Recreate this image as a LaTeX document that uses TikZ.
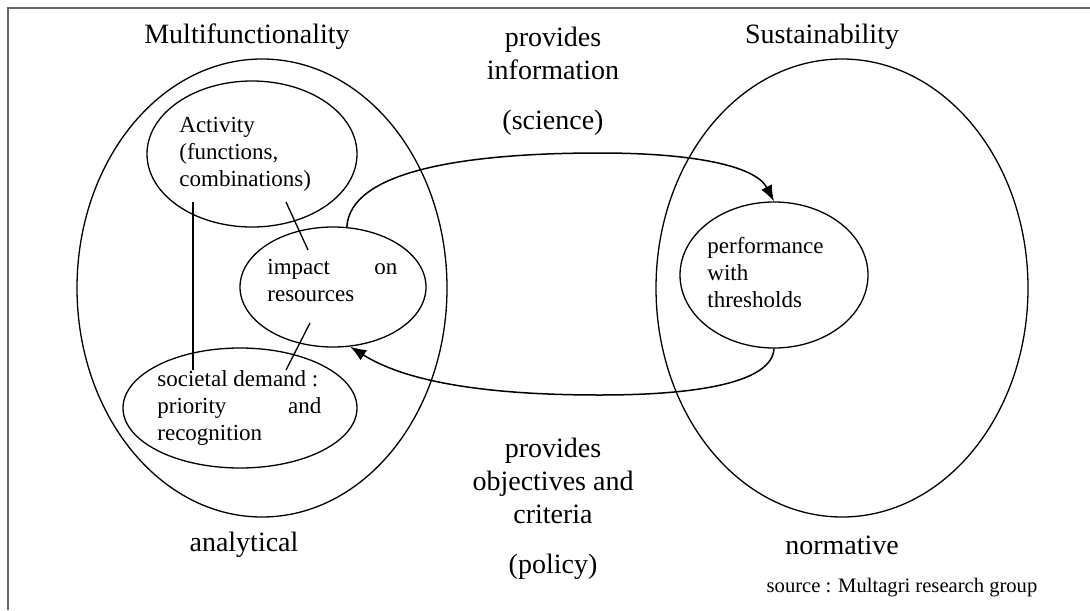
\documentclass[tikz,border=0pt]{standalone}
\usepackage{fontspec}
\setmainfont{Liberation Serif}
\usetikzlibrary{shapes.geometric,arrows.meta}
\begin{document}
\begin{tikzpicture}[x=0.5pt,y=-0.5pt,
  oval/.style={draw, ellipse, inner sep=0pt, line width=0.65pt},
  title/.style={font=\fontsize{14}{16.5}\selectfont, align=center, inner sep=0pt},
  inner/.style={font=\fontsize{11.5}{13.5}\selectfont, align=left, inner sep=0pt, anchor=west},
  link/.style={line width=0.65pt},
  flow/.style={line width=0.75pt, -{Latex[length=8pt,width=6pt]}}]
\useasboundingbox (0,0) rectangle (1090,610);
\draw[line width=1.3pt, black!60] (8,610) -- (8,8) -- (1090,8);
% big ellipses
\node[oval, minimum width=185pt, minimum height=229pt] (multi) at (262,288) {};
\node[oval, minimum width=186pt, minimum height=229pt] (sust) at (842,288) {};
% inner ellipses
\node[oval, minimum width=105pt, minimum height=73pt] (act) at (252,154) {};
\node[oval, minimum width=93pt, minimum height=60pt] (imp) at (333,287) {};
\node[oval, minimum width=117pt, minimum height=60pt] (soc) at (240,408) {};
\node[oval, minimum width=94pt, minimum height=73pt] (perf) at (774,275) {};
% texts
\node[title] (tmulti) at (247,37) {Multifunctionality};
\node[title] (tsust) at (822,37) {Sustainability};
\node[title] (tinfo) at (553,53) {provides\\information};
\node[title] (tsci) at (553,123) {(science)};
\node[title] (tobj) at (553,481) {provides\\objectives and\\criteria};
\node[title] (tpol) at (553,567) {(policy)};
\node[title] (tana) at (244,545) {analytical};
\node[title] (tnorm) at (842,545) {normative};
\node[font=\fontsize{10.3}{12}\selectfont, inner sep=0pt] (src) at (902,588) {source : Multagri research group};
\node[inner] (tact) at (179,154) {Activity\\(functions,\\combinations)};
\node[inner] (timp) at (267,280) {\hbox to 65pt{impact\hfill on}\\resources};
\node[inner] (tsoc) at (157,408) {societal demand :\\\hbox to 82pt{priority\hfill and}\\recognition};
\node[inner] (tperf) at (707,273) {performance\\with\\thresholds};
% links
\coordinate (a1) at (193,202);
\coordinate (s1) at (193,370);
\coordinate (a2) at (286,202);
\coordinate (i1) at (308,250);
\coordinate (i2) at (310,323);
\coordinate (s2) at (286,370);
\draw[link] (a1) -- (s1);
\draw[link] (a2) -- (i1);
\draw[link] (i2) -- (s2);
% flows
\draw[flow] (imp.77) .. controls (350,172) and (460,153) .. (600,153)
  .. controls (690,153) and (755,165) .. (perf.north);
\draw[flow] (perf.south) .. controls (772,382) and (700,395) .. (600,395)
  .. controls (470,395) and (400,378) .. (imp.-74);
\end{tikzpicture}
\end{document}
